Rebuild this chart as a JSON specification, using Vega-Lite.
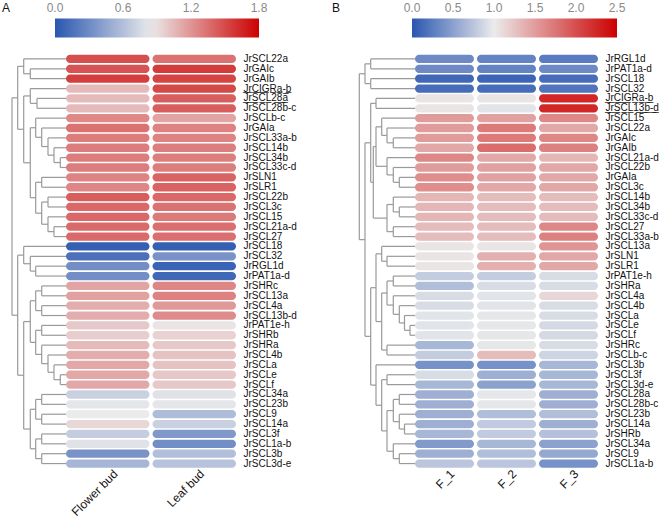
{
"$schema": "https://vega.github.io/schema/vega-lite/v6.json",
"padding": {"left": 0, "top": 2, "right": 0, "bottom": 0},
"background": "white",
"config": {"view": {"stroke": null}, "font": "Liberation Sans"},
"datasets": {
"treeA": [
{"h":35.7,"ha":0,"ya":1,"hb":0,"yb":2},
{"h":42.3,"ha":0,"ya":0,"hb":35.7,"yb":1.5},
{"h":29,"ha":0,"ya":4,"hb":0,"yb":5},
{"h":35.7,"ha":0,"ya":3,"hb":29,"yb":4.5},
{"h":5.7,"ha":0,"ya":10,"hb":0,"yb":11},
{"h":12,"ha":0,"ya":9,"hb":5.7,"yb":10.5},
{"h":18,"ha":0,"ya":8,"hb":12,"yb":9.75},
{"h":24.3,"ha":0,"ya":7,"hb":18,"yb":8.875},
{"h":30.3,"ha":0,"ya":6,"hb":24.3,"yb":7.94},
{"h":24.3,"ha":0,"ya":12,"hb":0,"yb":13},
{"h":18,"ha":0,"ya":14,"hb":0,"yb":15},
{"h":12,"ha":0,"ya":17,"hb":0,"yb":18},
{"h":18,"ha":0,"ya":16,"hb":12,"yb":17.5},
{"h":24.3,"ha":18,"ya":14.5,"hb":18,"yb":16.75},
{"h":30.3,"ha":24.3,"ya":12.5,"hb":24.3,"yb":15.63},
{"h":35.7,"ha":30.3,"ya":6.97,"hb":30.3,"yb":14.06},
{"h":42.3,"ha":35.7,"ya":3.75,"hb":35.7,"yb":10.52},
{"h":48.3,"ha":42.3,"ya":0.75,"hb":42.3,"yb":7.13},
{"h":30.3,"ha":0,"ya":21,"hb":0,"yb":22},
{"h":35.7,"ha":0,"ya":20,"hb":30.3,"yb":21.5},
{"h":42.3,"ha":0,"ya":19,"hb":35.7,"yb":20.75},
{"h":24.3,"ha":0,"ya":23,"hb":0,"yb":24},
{"h":24.3,"ha":0,"ya":25,"hb":0,"yb":26},
{"h":30.3,"ha":24.3,"ya":23.5,"hb":24.3,"yb":25.5},
{"h":24.3,"ha":0,"ya":27,"hb":0,"yb":28},
{"h":5.7,"ha":0,"ya":32,"hb":0,"yb":33},
{"h":12,"ha":0,"ya":31,"hb":5.7,"yb":32.5},
{"h":18,"ha":0,"ya":30,"hb":12,"yb":31.75},
{"h":24.3,"ha":0,"ya":29,"hb":18,"yb":30.88},
{"h":30.3,"ha":24.3,"ya":27.5,"hb":24.3,"yb":29.94},
{"h":35.7,"ha":30.3,"ya":24.5,"hb":30.3,"yb":28.72},
{"h":24.3,"ha":0,"ya":34,"hb":0,"yb":35},
{"h":24.3,"ha":0,"ya":36,"hb":0,"yb":37},
{"h":30.3,"ha":24.3,"ya":34.5,"hb":24.3,"yb":36.5},
{"h":24.3,"ha":0,"ya":38,"hb":0,"yb":39},
{"h":24.3,"ha":0,"ya":40,"hb":0,"yb":41},
{"h":30.3,"ha":24.3,"ya":38.5,"hb":24.3,"yb":40.5},
{"h":35.7,"ha":30.3,"ya":35.5,"hb":30.3,"yb":39.5},
{"h":42.3,"ha":35.7,"ya":26.61,"hb":35.7,"yb":37.5},
{"h":48.3,"ha":42.3,"ya":19.88,"hb":42.3,"yb":32.05},
{"h":54,"ha":48.3,"ya":3.94,"hb":48.3,"yb":25.97}
],
"treeB": [
{"h":44.3,"ha":0,"ya":0,"hb":0,"yb":1},
{"h":44.3,"ha":0,"ya":2,"hb":0,"yb":3},
{"h":50,"ha":44.3,"ya":0.5,"hb":44.3,"yb":2.5},
{"h":39,"ha":0,"ya":4,"hb":0,"yb":5},
{"h":21.7,"ha":0,"ya":8,"hb":0,"yb":9},
{"h":28,"ha":0,"ya":7,"hb":21.7,"yb":8.5},
{"h":33.3,"ha":0,"ya":6,"hb":28,"yb":7.75},
{"h":15.7,"ha":0,"ya":12,"hb":0,"yb":13},
{"h":21.7,"ha":0,"ya":11,"hb":15.7,"yb":12.5},
{"h":28,"ha":0,"ya":10,"hb":21.7,"yb":11.75},
{"h":39,"ha":33.3,"ya":6.88,"hb":28,"yb":10.88},
{"h":15.7,"ha":0,"ya":15,"hb":0,"yb":16},
{"h":21.7,"ha":0,"ya":14,"hb":15.7,"yb":15.5},
{"h":21.7,"ha":0,"ya":17,"hb":0,"yb":18},
{"h":28,"ha":21.7,"ya":14.75,"hb":21.7,"yb":17.5},
{"h":41.7,"ha":39,"ya":8.88,"hb":28,"yb":16.13},
{"h":44.3,"ha":39,"ya":4.5,"hb":41.7,"yb":12.5},
{"h":28,"ha":0,"ya":20,"hb":0,"yb":21},
{"h":33.3,"ha":0,"ya":19,"hb":28,"yb":20.5},
{"h":21.7,"ha":0,"ya":22,"hb":0,"yb":23},
{"h":5,"ha":0,"ya":27,"hb":0,"yb":28},
{"h":10.5,"ha":0,"ya":26,"hb":5,"yb":27.5},
{"h":15.7,"ha":0,"ya":25,"hb":10.5,"yb":26.75},
{"h":21.7,"ha":0,"ya":24,"hb":15.7,"yb":25.88},
{"h":28,"ha":21.7,"ya":22.5,"hb":21.7,"yb":24.94},
{"h":28,"ha":0,"ya":29,"hb":0,"yb":30},
{"h":33.3,"ha":28,"ya":23.72,"hb":28,"yb":29.5},
{"h":39,"ha":33.3,"ya":19.75,"hb":33.3,"yb":26.61},
{"h":28,"ha":0,"ya":32,"hb":0,"yb":33},
{"h":15.7,"ha":0,"ya":34,"hb":0,"yb":35},
{"h":10.5,"ha":0,"ya":37,"hb":0,"yb":38},
{"h":15.7,"ha":0,"ya":36,"hb":10.5,"yb":37.5},
{"h":21.7,"ha":15.7,"ya":34.5,"hb":15.7,"yb":36.75},
{"h":15.7,"ha":0,"ya":40,"hb":0,"yb":41},
{"h":21.7,"ha":0,"ya":39,"hb":15.7,"yb":40.5},
{"h":28,"ha":21.7,"ya":35.63,"hb":21.7,"yb":39.75},
{"h":33.3,"ha":28,"ya":32.5,"hb":28,"yb":37.69},
{"h":39,"ha":0,"ya":31,"hb":33.3,"yb":35.09},
{"h":44.3,"ha":39,"ya":23.18,"hb":39,"yb":33.05},
{"h":50,"ha":44.3,"ya":8.5,"hb":44.3,"yb":28.11},
{"h":55.7,"ha":50,"ya":1.5,"hb":50,"yb":18.31}
],
"heatA": [
{"gene":"JrSCL22a","tissue":"Flower bud","v":1.48},{"gene":"JrSCL22a","tissue":"Leaf bud","v":1.34},
{"gene":"JrGAIc","tissue":"Flower bud","v":1.47},{"gene":"JrGAIc","tissue":"Leaf bud","v":1.56},
{"gene":"JrGAIb","tissue":"Flower bud","v":1.55},{"gene":"JrGAIb","tissue":"Leaf bud","v":1.53},
{"gene":"JrCIGRa-b","tissue":"Flower bud","v":1.05},{"gene":"JrCIGRa-b","tissue":"Leaf bud","v":1.51},
{"gene":"JrSCL28a","tissue":"Flower bud","v":1.05},{"gene":"JrSCL28a","tissue":"Leaf bud","v":1.42},
{"gene":"JrSCL28b-c","tissue":"Flower bud","v":1.05},{"gene":"JrSCL28b-c","tissue":"Leaf bud","v":1.42},
{"gene":"JrSCLb-c","tissue":"Flower bud","v":1.25},{"gene":"JrSCLb-c","tissue":"Leaf bud","v":1.14},
{"gene":"JrGAIa","tissue":"Flower bud","v":1.34},{"gene":"JrGAIa","tissue":"Leaf bud","v":1.28},
{"gene":"JrSCL33a-b","tissue":"Flower bud","v":1.3},{"gene":"JrSCL33a-b","tissue":"Leaf bud","v":1.27},
{"gene":"JrSCL14b","tissue":"Flower bud","v":1.3},{"gene":"JrSCL14b","tissue":"Leaf bud","v":1.29},
{"gene":"JrSCL34b","tissue":"Flower bud","v":1.3},{"gene":"JrSCL34b","tissue":"Leaf bud","v":1.29},
{"gene":"JrSCL33c-d","tissue":"Flower bud","v":1.3},{"gene":"JrSCL33c-d","tissue":"Leaf bud","v":1.29},
{"gene":"JrSLN1","tissue":"Flower bud","v":1.27},{"gene":"JrSLN1","tissue":"Leaf bud","v":1.4},
{"gene":"JrSLR1","tissue":"Flower bud","v":1.26},{"gene":"JrSLR1","tissue":"Leaf bud","v":1.4},
{"gene":"JrSCL22b","tissue":"Flower bud","v":1.42},{"gene":"JrSCL22b","tissue":"Leaf bud","v":1.38},
{"gene":"JrSCL3c","tissue":"Flower bud","v":1.38},{"gene":"JrSCL3c","tissue":"Leaf bud","v":1.34},
{"gene":"JrSCL15","tissue":"Flower bud","v":1.38},{"gene":"JrSCL15","tissue":"Leaf bud","v":1.31},
{"gene":"JrSCL21a-d","tissue":"Flower bud","v":1.37},{"gene":"JrSCL21a-d","tissue":"Leaf bud","v":1.35},
{"gene":"JrSCL27","tissue":"Flower bud","v":1.37},{"gene":"JrSCL27","tissue":"Leaf bud","v":1.35},
{"gene":"JrSCL18","tissue":"Flower bud","v":0.05},{"gene":"JrSCL18","tissue":"Leaf bud","v":0.05},
{"gene":"JrSCL32","tissue":"Flower bud","v":0.15},{"gene":"JrSCL32","tissue":"Leaf bud","v":0.35},
{"gene":"JrRGL1d","tissue":"Flower bud","v":0.32},{"gene":"JrRGL1d","tissue":"Leaf bud","v":0.08},
{"gene":"JrPAT1a-d","tissue":"Flower bud","v":0.32},{"gene":"JrPAT1a-d","tissue":"Leaf bud","v":0.1},
{"gene":"JrSHRc","tissue":"Flower bud","v":1.14},{"gene":"JrSHRc","tissue":"Leaf bud","v":1.26},
{"gene":"JrSCL13a","tissue":"Flower bud","v":1.15},{"gene":"JrSCL13a","tissue":"Leaf bud","v":1.28},
{"gene":"JrSCL4a","tissue":"Flower bud","v":1.1},{"gene":"JrSCL4a","tissue":"Leaf bud","v":1.18},
{"gene":"JrSCL13b-d","tissue":"Flower bud","v":1.1},{"gene":"JrSCL13b-d","tissue":"Leaf bud","v":1.24},
{"gene":"JrPAT1e-h","tissue":"Flower bud","v":0.99},{"gene":"JrPAT1e-h","tissue":"Leaf bud","v":0.88},
{"gene":"JrSHRb","tissue":"Flower bud","v":0.97},{"gene":"JrSHRb","tissue":"Leaf bud","v":0.95},
{"gene":"JrSHRa","tissue":"Flower bud","v":1.05},{"gene":"JrSHRa","tissue":"Leaf bud","v":0.99},
{"gene":"JrSCL4b","tissue":"Flower bud","v":1.1},{"gene":"JrSCL4b","tissue":"Leaf bud","v":1.01},
{"gene":"JrSCLa","tissue":"Flower bud","v":1.12},{"gene":"JrSCLa","tissue":"Leaf bud","v":1.01},
{"gene":"JrSCLe","tissue":"Flower bud","v":1.12},{"gene":"JrSCLe","tissue":"Leaf bud","v":0.99},
{"gene":"JrSCLf","tissue":"Flower bud","v":1.12},{"gene":"JrSCLf","tissue":"Leaf bud","v":0.99},
{"gene":"JrSCL34a","tissue":"Flower bud","v":0.7},{"gene":"JrSCL34a","tissue":"Leaf bud","v":0.8},
{"gene":"JrSCL23b","tissue":"Flower bud","v":0.82},{"gene":"JrSCL23b","tissue":"Leaf bud","v":0.82},
{"gene":"JrSCL9","tissue":"Flower bud","v":0.85},{"gene":"JrSCL9","tissue":"Leaf bud","v":0.58},
{"gene":"JrSCL14a","tissue":"Flower bud","v":0.93},{"gene":"JrSCL14a","tissue":"Leaf bud","v":0.7},
{"gene":"JrSCL3f","tissue":"Flower bud","v":0.68},{"gene":"JrSCL3f","tissue":"Leaf bud","v":0.38},
{"gene":"JrSCL1a-b","tissue":"Flower bud","v":0.8},{"gene":"JrSCL1a-b","tissue":"Leaf bud","v":0.32},
{"gene":"JrSCL3b","tissue":"Flower bud","v":0.35},{"gene":"JrSCL3b","tissue":"Leaf bud","v":0.6},
{"gene":"JrSCL3d-e","tissue":"Flower bud","v":0.55},{"gene":"JrSCL3d-e","tissue":"Leaf bud","v":0.62}
],
"heatB": [
{"gene":"JrRGL1d","f":"F_1","v":0.35},{"gene":"JrRGL1d","f":"F_2","v":0.3},{"gene":"JrRGL1d","f":"F_3","v":0.25},
{"gene":"JrPAT1a-d","f":"F_1","v":0.35},{"gene":"JrPAT1a-d","f":"F_2","v":0.3},{"gene":"JrPAT1a-d","f":"F_3","v":0.35},
{"gene":"JrSCL18","f":"F_1","v":0.12},{"gene":"JrSCL18","f":"F_2","v":0.1},{"gene":"JrSCL18","f":"F_3","v":0.15},
{"gene":"JrSCL32","f":"F_1","v":0.15},{"gene":"JrSCL32","f":"F_2","v":0.15},{"gene":"JrSCL32","f":"F_3","v":0.2},
{"gene":"JrCIGRa-b","f":"F_1","v":1.04},{"gene":"JrCIGRa-b","f":"F_2","v":1.04},{"gene":"JrCIGRa-b","f":"F_3","v":2.25},
{"gene":"JrSCL13b-d","f":"F_1","v":1.04},{"gene":"JrSCL13b-d","f":"F_2","v":0.95},{"gene":"JrSCL13b-d","f":"F_3","v":2.25},
{"gene":"JrSCL15","f":"F_1","v":1.51},{"gene":"JrSCL15","f":"F_2","v":1.47},{"gene":"JrSCL15","f":"F_3","v":1.64},
{"gene":"JrSCL22a","f":"F_1","v":1.51},{"gene":"JrSCL22a","f":"F_2","v":1.72},{"gene":"JrSCL22a","f":"F_3","v":1.43},
{"gene":"JrGAIc","f":"F_1","v":1.51},{"gene":"JrGAIc","f":"F_2","v":1.72},{"gene":"JrGAIc","f":"F_3","v":1.64},
{"gene":"JrGAIb","f":"F_1","v":1.43},{"gene":"JrGAIb","f":"F_2","v":1.81},{"gene":"JrGAIb","f":"F_3","v":1.68},
{"gene":"JrSCL21a-d","f":"F_1","v":1.64},{"gene":"JrSCL21a-d","f":"F_2","v":1.43},{"gene":"JrSCL21a-d","f":"F_3","v":1.34},
{"gene":"JrSCL22b","f":"F_1","v":1.51},{"gene":"JrSCL22b","f":"F_2","v":1.47},{"gene":"JrSCL22b","f":"F_3","v":1.43},
{"gene":"JrGAIa","f":"F_1","v":1.6},{"gene":"JrGAIa","f":"F_2","v":1.47},{"gene":"JrGAIa","f":"F_3","v":1.43},
{"gene":"JrSCL3c","f":"F_1","v":1.6},{"gene":"JrSCL3c","f":"F_2","v":1.43},{"gene":"JrSCL3c","f":"F_3","v":1.43},
{"gene":"JrSCL14b","f":"F_1","v":1.34},{"gene":"JrSCL14b","f":"F_2","v":1.3},{"gene":"JrSCL14b","f":"F_3","v":1.3},
{"gene":"JrSCL34b","f":"F_1","v":1.34},{"gene":"JrSCL34b","f":"F_2","v":1.3},{"gene":"JrSCL34b","f":"F_3","v":1.3},
{"gene":"JrSCL33c-d","f":"F_1","v":1.34},{"gene":"JrSCL33c-d","f":"F_2","v":1.3},{"gene":"JrSCL33c-d","f":"F_3","v":1.3},
{"gene":"JrSCL27","f":"F_1","v":1.3},{"gene":"JrSCL27","f":"F_2","v":1.3},{"gene":"JrSCL27","f":"F_3","v":1.64},
{"gene":"JrSCL33a-b","f":"F_1","v":1.3},{"gene":"JrSCL33a-b","f":"F_2","v":1.3},{"gene":"JrSCL33a-b","f":"F_3","v":1.68},
{"gene":"JrSCL13a","f":"F_1","v":1.04},{"gene":"JrSCL13a","f":"F_2","v":1.04},{"gene":"JrSCL13a","f":"F_3","v":1.55},
{"gene":"JrSLN1","f":"F_1","v":1.04},{"gene":"JrSLN1","f":"F_2","v":1.38},{"gene":"JrSLN1","f":"F_3","v":1.43},
{"gene":"JrSLR1","f":"F_1","v":1.04},{"gene":"JrSLR1","f":"F_2","v":1.38},{"gene":"JrSLR1","f":"F_3","v":1.43},
{"gene":"JrPAT1e-h","f":"F_1","v":0.8},{"gene":"JrPAT1e-h","f":"F_2","v":0.8},{"gene":"JrPAT1e-h","f":"F_3","v":0.9},
{"gene":"JrSHRa","f":"F_1","v":0.7},{"gene":"JrSHRa","f":"F_2","v":0.9},{"gene":"JrSHRa","f":"F_3","v":0.9},
{"gene":"JrSCL4a","f":"F_1","v":0.9},{"gene":"JrSCL4a","f":"F_2","v":0.95},{"gene":"JrSCL4a","f":"F_3","v":1.13},
{"gene":"JrSCL4b","f":"F_1","v":0.9},{"gene":"JrSCL4b","f":"F_2","v":0.95},{"gene":"JrSCL4b","f":"F_3","v":0.9},
{"gene":"JrSCLa","f":"F_1","v":0.95},{"gene":"JrSCLa","f":"F_2","v":0.97},{"gene":"JrSCLa","f":"F_3","v":0.9},
{"gene":"JrSCLe","f":"F_1","v":0.95},{"gene":"JrSCLe","f":"F_2","v":0.97},{"gene":"JrSCLe","f":"F_3","v":0.88},
{"gene":"JrSCLf","f":"F_1","v":0.95},{"gene":"JrSCLf","f":"F_2","v":0.97},{"gene":"JrSCLf","f":"F_3","v":0.88},
{"gene":"JrSHRc","f":"F_1","v":0.65},{"gene":"JrSHRc","f":"F_2","v":0.97},{"gene":"JrSHRc","f":"F_3","v":0.9},
{"gene":"JrSCLb-c","f":"F_1","v":0.8},{"gene":"JrSCLb-c","f":"F_2","v":1.3},{"gene":"JrSCLb-c","f":"F_3","v":0.85},
{"gene":"JrSCL3b","f":"F_1","v":0.4},{"gene":"JrSCL3b","f":"F_2","v":0.4},{"gene":"JrSCL3b","f":"F_3","v":0.65},
{"gene":"JrSCL3f","f":"F_1","v":0.9},{"gene":"JrSCL3f","f":"F_2","v":0.6},{"gene":"JrSCL3f","f":"F_3","v":0.65},
{"gene":"JrSCL3d-e","f":"F_1","v":0.65},{"gene":"JrSCL3d-e","f":"F_2","v":0.5},{"gene":"JrSCL3d-e","f":"F_3","v":0.65},
{"gene":"JrSCL28a","f":"F_1","v":0.6},{"gene":"JrSCL28a","f":"F_2","v":0.97},{"gene":"JrSCL28a","f":"F_3","v":0.6},
{"gene":"JrSCL28b-c","f":"F_1","v":0.6},{"gene":"JrSCL28b-c","f":"F_2","v":0.97},{"gene":"JrSCL28b-c","f":"F_3","v":0.6},
{"gene":"JrSCL23b","f":"F_1","v":0.6},{"gene":"JrSCL23b","f":"F_2","v":0.7},{"gene":"JrSCL23b","f":"F_3","v":0.7},
{"gene":"JrSCL14a","f":"F_1","v":0.6},{"gene":"JrSCL14a","f":"F_2","v":0.78},{"gene":"JrSCL14a","f":"F_3","v":0.6},
{"gene":"JrSHRb","f":"F_1","v":0.65},{"gene":"JrSHRb","f":"F_2","v":0.78},{"gene":"JrSHRb","f":"F_3","v":0.72},
{"gene":"JrSCL34a","f":"F_1","v":0.45},{"gene":"JrSCL34a","f":"F_2","v":0.65},{"gene":"JrSCL34a","f":"F_3","v":0.5},
{"gene":"JrSCL9","f":"F_1","v":0.6},{"gene":"JrSCL9","f":"F_2","v":0.7},{"gene":"JrSCL9","f":"F_3","v":0.55},
{"gene":"JrSCL1a-b","f":"F_1","v":0.75},{"gene":"JrSCL1a-b","f":"F_2","v":0.75},{"gene":"JrSCL1a-b","f":"F_3","v":0.4}
]
},
"spacing": 0,
"bounds": "flush",
"resolve": {"scale": {"x": "independent", "y": "independent", "color": "independent"}},
"hconcat": [
{
"width": 66, "height": 414.5,
"title": {"text": "A", "anchor": "start", "dx": 2, "offset": 39, "fontSize": 12, "fontWeight": "normal", "font": "Liberation Sans", "color": "#111111"},
"data": {"name": "treeA"},
"layer": [
{"mark": {"type": "rule", "color": "#9a9a9a", "strokeWidth": 1.2},
 "encoding": {"x": {"field": "h", "type": "quantitative", "scale": {"domain": [0, 66], "reverse": true, "nice": false, "zero": false}, "axis": null},
  "y": {"field": "ya", "type": "quantitative", "scale": {"domain": [-0.5, 41.5], "reverse": true, "nice": false, "zero": false}, "axis": null},
  "y2": {"field": "yb"}}},
{"mark": {"type": "rule", "color": "#9a9a9a", "strokeWidth": 1.2},
 "encoding": {"x": {"field": "ha", "type": "quantitative"}, "x2": {"field": "h"}, "y": {"field": "ya", "type": "quantitative"}}},
{"mark": {"type": "rule", "color": "#9a9a9a", "strokeWidth": 1.2},
 "encoding": {"x": {"field": "hb", "type": "quantitative"}, "x2": {"field": "h"}, "y": {"field": "yb", "type": "quantitative"}}}
]
},
{
"width": 170, "height": 414.5,
"data": {"name": "heatA"},
"mark": {"type": "rect", "cornerRadius": 4},
"encoding": {
"x": {"field": "tissue", "type": "nominal", "sort": null, "scale": {"paddingInner": 0.035, "paddingOuter": 0},
 "axis": {"orient": "bottom", "title": null, "domain": false, "ticks": false, "labelAngle": -45, "labelAlign": "right", "labelBaseline": "middle", "labelPadding": 3, "labelOffset": 8, "labelFontSize": 12, "labelColor": "#111111", "labelFont": "Liberation Sans"}},
"y": {"field": "gene", "type": "nominal", "sort": null, "scale": {"paddingInner": 0.16, "paddingOuter": 0.08},
 "axis": {"orient": "right", "title": null, "domain": false, "ticks": false, "labelPadding": 7, "labelFontSize": 10, "labelColor": "#111111", "labelFont": "Liberation Sans", "labelOverlap": false,
  "labelExpr": "indexof(['JrCIGRa-b','JrSCL28a'], datum.label) >= 0 ? replace(datum.label, regexp('(.)', 'g'), '$1\u0332') : datum.label"}},
"color": {"field": "v", "type": "quantitative",
 "scale": {"domain": [0, 0.85, 1.8], "range": ["#2A56B0", "#EBEBEB", "#CC0000"], "interpolate": "rgb"},
 "legend": {"orient": "none", "legendX": -11, "legendY": -35.4, "direction": "horizontal", "gradientLength": 204, "gradientThickness": 19, "gradientStrokeWidth": 0, "title": null,
  "values": [0, 0.6, 1.2, 1.8], "format": ".1f", "labelOffset": -35, "labelBaseline": "alphabetic", "labelAlign": "center", "labelFontSize": 12, "labelColor": "#8a8a8a", "labelFont": "Liberation Sans",
  "encode": {"labels": {"update": {"align": {"value": "center"}}}}}}
}
},
{
"width": 179, "height": 414.5,
"title": {"text": "B", "anchor": "start", "dx": 96, "offset": 39, "fontSize": 12, "fontWeight": "normal", "font": "Liberation Sans", "color": "#111111"},
"data": {"name": "treeB"},
"layer": [
{"mark": {"type": "rule", "color": "#9a9a9a", "strokeWidth": 1.2},
 "encoding": {"x": {"field": "h", "type": "quantitative", "scale": {"domain": [0, 179], "reverse": true, "nice": false, "zero": false}, "axis": null},
  "y": {"field": "ya", "type": "quantitative", "scale": {"domain": [-0.5, 41.5], "reverse": true, "nice": false, "zero": false}, "axis": null},
  "y2": {"field": "yb"}}},
{"mark": {"type": "rule", "color": "#9a9a9a", "strokeWidth": 1.2},
 "encoding": {"x": {"field": "ha", "type": "quantitative"}, "x2": {"field": "h"}, "y": {"field": "ya", "type": "quantitative"}}},
{"mark": {"type": "rule", "color": "#9a9a9a", "strokeWidth": 1.2},
 "encoding": {"x": {"field": "hb", "type": "quantitative"}, "x2": {"field": "h"}, "y": {"field": "yb", "type": "quantitative"}}}
]
},
{
"width": 183, "height": 414.5,
"data": {"name": "heatB"},
"mark": {"type": "rect", "cornerRadius": 4},
"encoding": {
"x": {"field": "f", "type": "nominal", "sort": null, "scale": {"paddingInner": 0.0485, "paddingOuter": 0},
 "axis": {"orient": "bottom", "title": null, "domain": false, "ticks": false, "labelAngle": -45, "labelAlign": "right", "labelBaseline": "middle", "labelPadding": 3, "labelOffset": 8, "labelFontSize": 12, "labelColor": "#111111", "labelFont": "Liberation Sans"}},
"y": {"field": "gene", "type": "nominal", "sort": null, "scale": {"paddingInner": 0.16, "paddingOuter": 0.08},
 "axis": {"orient": "right", "title": null, "domain": false, "ticks": false, "labelPadding": 7, "labelFontSize": 10, "labelColor": "#111111", "labelFont": "Liberation Sans", "labelOverlap": false,
  "labelExpr": "indexof(['JrCIGRa-b','JrSCL13b-d'], datum.label) >= 0 ? replace(datum.label, regexp('(.)', 'g'), '$1\u0332') : datum.label"}},
"color": {"field": "v", "type": "quantitative",
 "scale": {"domain": [0, 1.0, 2.5], "range": ["#2A56B0", "#EBEBEB", "#CC0000"], "interpolate": "rgb"},
 "legend": {"orient": "none", "legendX": -3, "legendY": -35.4, "direction": "horizontal", "gradientLength": 205, "gradientThickness": 19, "gradientStrokeWidth": 0, "title": null,
  "values": [0, 0.5, 1, 1.5, 2, 2.5], "format": ".1f", "labelOffset": -35, "labelBaseline": "alphabetic", "labelAlign": "center", "labelFontSize": 12, "labelColor": "#8a8a8a", "labelFont": "Liberation Sans",
  "encode": {"labels": {"update": {"align": {"value": "center"}}}}}}
}
}
]
}
